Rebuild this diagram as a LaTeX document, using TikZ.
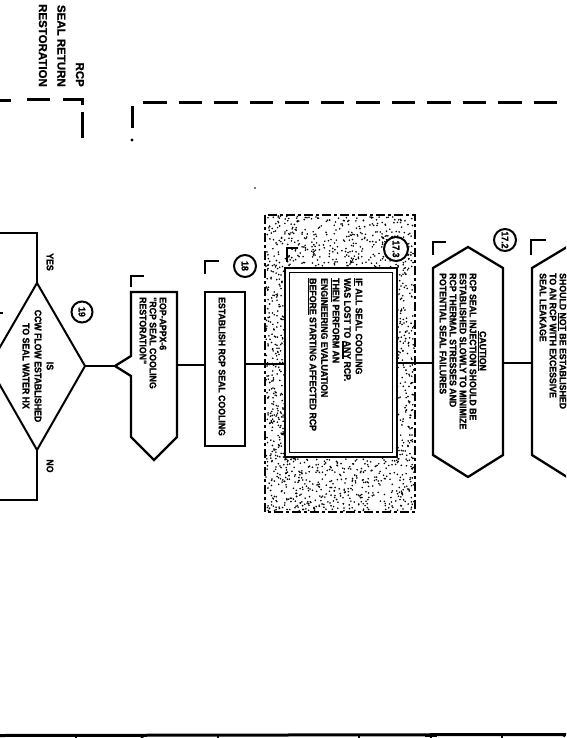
\documentclass[tikz,border=0pt]{standalone}
\usepackage{fontspec}
\newfontfamily\ef[FakeStretch=0.92,FakeBold=1.2]{Liberation Sans}
\newfontfamily\tf[FakeBold=1.2]{Liberation Sans}
\newcommand\ulx[1]{\setbox0\hbox{#1}\rlap{\rule[-1.8pt]{\wd0}{1.2pt}}\box0\relax}
\begin{document}
\begin{tikzpicture}[x=1pt,y=-1pt,
  ln/.style={line width=2pt, line join=miter},
  bx/.style={line width=2.3pt, line join=miter},
  dsh/.style={line width=3pt},
  pkm/.style={line width=2.2pt},
  txt/.style={font=\ef\bfseries\fontsize{9.5}{10}\selectfont, inner sep=0pt, rotate=-90, align=left},
  ttl/.style={font=\tf\bfseries\fontsize{11.5}{18.5}\selectfont, inner sep=0pt, rotate=-90, align=right},
  circ/.style={circle, draw, line width=2pt, minimum size=22pt, inner sep=0pt, rotate=-90,
    font=\ef\bfseries\fontsize{9.5}{9.5}\selectfont}
]
\useasboundingbox (0,0) rectangle (566,738);
\clip (0,0) rectangle (566,738);

% ---- title and dashed boundaries
\node[ttl, anchor=north east] (title) at (84.2,87) {RCP\\SEAL RETURN\\RESTORATION};
\draw[dsh] (0,100.5)--(11,100.5) (27,100)--(50,100) (63,100)--(82,100)--(82,105) (82,112)--(82,138);
\draw[dsh] (132,106)--(132,128);
\fill (132,140) circle[radius=1.6];
\draw[dsh, dash pattern=on 23.5pt off 12pt] (143,103) -- (566,103);
\fill (255,188) circle[radius=0.8];

% ---- decision 19
\coordinate (qT) at (37,283);
\coordinate (qB) at (37,450);
\coordinate (qR) at (85,366);
\coordinate (qL) at (-11,366);
\draw[ln] (qT) -- (qR) -- (qB) -- (qL) -- cycle;
\node[txt, align=center, font=\ef\bfseries\fontsize{9.5}{12}\selectfont] (q19) at (38,366) {IS\\CCW FLOW ESTABLISHED\\TO SEAL WATER HX};
\node[circ, minimum size=21pt] (c19) at (82,312) {19};
\coordinate (yesE) at (37,233);
\coordinate (yesW) at (0,233);
\coordinate (noE) at (37,500);
\coordinate (noW) at (0,500);
\draw[ln] (qT) -- (yesE) -- (yesW);
\draw[ln] (qB) -- (noE) -- (noW);
\node[txt] (yes) at (50,262) {YES};
\node[txt] (no) at (50,466) {NO};
\draw[line width=1.5pt] (0,313) -- (3,313);

% ---- EOP reference
\coordinate (eTip) at (115,366);
\coordinate (eR) at (177,365);
\draw[bx] (131,292) -- (177,292) -- (177,437) -- (154,460) -- (131,437) -- (131,376) -- (eTip) -- (131,356) -- cycle;
\draw[pkm] (131,287) -- (131,276) -- (144,276);
\node[txt, anchor=north west] (eop) at (166.5,297) {EOP-APPX-6\\"RCP SEAL COOLING\\RESTORATION"};
\draw[ln] (qR) -- (eTip);

% ---- step 18
\coordinate (sL) at (205,365);
\coordinate (sR) at (245,364);
\draw[bx] (205,292) rectangle (245,446);
\draw[pkm] (205,274) -- (205,261) -- (219,261);
\node[txt, anchor=north west] (est) at (225.5,297) {ESTABLISH RCP SEAL COOLING};
\node[circ] (c18) at (245,266) {18};
\draw[ln] (eR) -- (sL);

% ---- shaded note
\pgfmathsetseed{42}
\foreach \i in {1,...,2400}{
  \pgfmathsetmacro\px{266+148*rnd}
  \pgfmathsetmacro\py{216+295*rnd}
  \fill (\px,\py) circle[radius=0.9];
}
\draw[line width=1.4pt, dash pattern=on 9pt off 3pt on 3pt off 3pt] (265,215) rectangle (415,512);
\draw[line width=2.4pt, fill=white] (285,268) rectangle (397,457);
\draw[line width=1.2pt] (289.5,272.5) rectangle (392.5,452.5);
\coordinate (nL) at (285,364);
\coordinate (nR) at (397,363);
\draw[pkm] (287,262) -- (287,248) -- (298,248);
\node[txt, anchor=north west, font=\ef\bfseries\fontsize{9.5}{11.5}\selectfont] (note) at (362.5,278)
  {\ulx{IF} ALL SEAL COOLING\\WAS LOST TO \ulx{ANY} RCP.\\\ulx{THEN} PERFORM AN\\ENGINEERING EVALUATION\\\ulx{BEFORE} STARTING AFFECTED RCP};
\node[circ, fill=white, minimum size=24pt] (c173) at (396,249) {17.3};
\draw[ln] (sR) -- (nL);

% ---- caution
\coordinate (cL) at (433,363);
\coordinate (cR) at (503,363);
\draw[bx] (433,268) -- (468,247) -- (503,268) -- (503,455) -- (468,477) -- (433,455) -- cycle;
\draw[pkm] (433,255) -- (433,242) -- (446,242);
\node[circ] (c172) at (505,240) {17.2};
\node[txt] (cauth) at (482,351) {\ulx{CAUTION}};
\node[txt, anchor=north west] (caut) at (476.5,273)
  {RCP SEAL INJECTION SHOULD BE\\ESTABLISHED SLOWLY TO MINIMIZE\\RCP THERMAL STRESSES AND\\POTENTIAL SEAL FAILURES};
\draw[ln] (nR) -- (cL);

% ---- rightmost caution
\coordinate (rL) at (532,363);
\draw[bx] (532,268) -- (567,247) -- (602,268) -- (602,455) -- (567,477) -- (532,455) -- cycle;
\draw[pkm] (531,255) -- (531,240) -- (546,240);
\node[txt, anchor=north west] (sl) at (566.5,273)
  {SHOULD \ulx{NOT} BE ESTABLISHED\\TO AN RCP WITH EXCESSIVE\\SEAL LEAKAGE};
\draw[ln] (cR) -- (rL);

% ---- bottom frame line
\draw[line width=3pt] (0,735.5) -- (566,734.5);
\foreach \tx in {76,218,359,502}{\draw[line width=1.5pt] (\tx,735) -- (\tx,738);}
\draw[line width=1.3pt] (141,738) -- (144,736.5);
\draw[line width=1.3pt] (425,736.5) -- (437,736.5) (431,736.5) -- (431,738);
\draw[line width=1.3pt] (565,736.5) arc[start angle=90, end angle=180, radius=2];
\end{tikzpicture}
\end{document}
